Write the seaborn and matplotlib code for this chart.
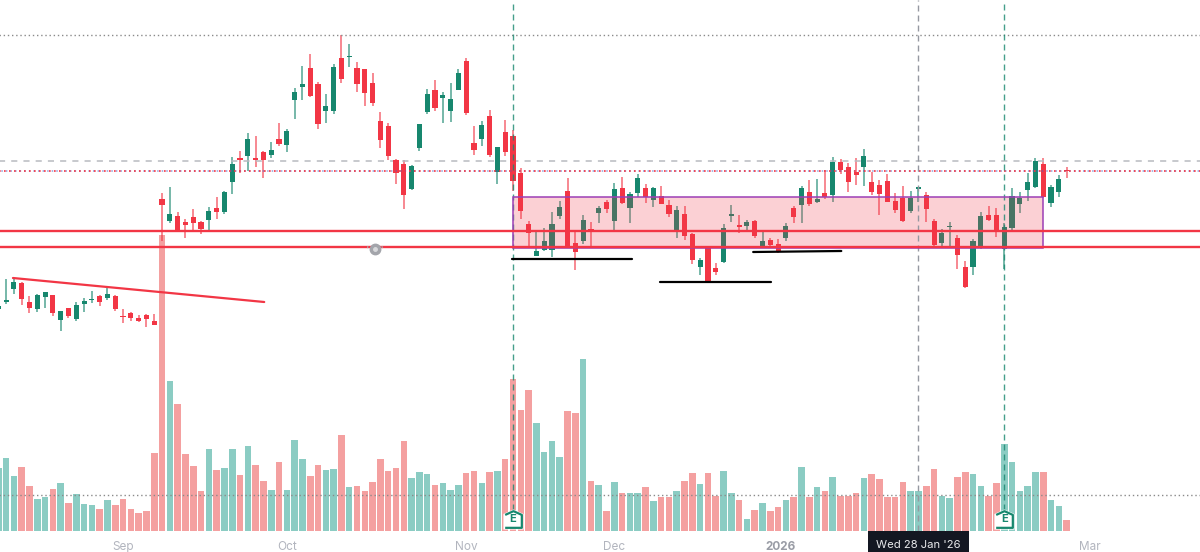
import numpy as np
import pandas as pd
import seaborn as sns
import matplotlib.pyplot as plt
from matplotlib.patches import Rectangle, Arc

# daily candles, first one sits just off the left edge (hidden price axis)
opens = [
    243.3, 249.7, 263, 269.3, 249.7, 243.3, 255.3, 257, 232, 243.7,
    233, 248, 251.7, 256, 253.7, 256.3, 236, 239, 233.7, 237,
    230.7, 352.7, 330.7, 336, 330.3, 334.7, 330.3, 331.7, 344.3, 340,
    370.3, 394, 396.3, 394, 400, 397.3, 413, 407, 452, 465,
    484.3, 467.7, 441.3, 441.3, 493.7, 495, 483.7, 482.7, 468.7, 431,
    426, 392, 388, 363.3, 403.7, 440.3, 462, 453.7, 441.3, 462.3,
    491, 409, 413.3, 436.3, 380, 419.7, 416, 379, 328.3, 296,
    301.7, 302, 336, 361.3, 308.7, 311, 322.7, 339, 350.3, 330.7,
    364, 343.7, 358.7, 364, 352, 355.7, 347.3, 322, 338, 318,
    285.3, 303.7, 284.3, 290.3, 336, 326.7, 325.7, 331.3, 304.7, 311.7,
    307.7, 313.7, 344.3, 346.7, 359.7, 350, 358.7, 356.7, 390.3, 384.7,
    380, 385, 369.7, 367, 370.7, 351, 354.3, 340.7, 362.7, 356.7,
    331.3, 309, 325, 314.3, 285, 285, 304.7, 337, 337, 302.7,
    324.3, 347.7, 361.7, 364.7, 387.7, 348.7, 360, 382,
]
closes = [
    246, 251.7, 270.3, 252.7, 244.3, 257, 260, 239.3, 241.3, 235.7,
    247, 251, 252.7, 250, 258, 243.3, 235, 234, 231, 233.3,
    227.3, 346.7, 338, 321.3, 327, 329, 323, 340.7, 340.3, 360.3,
    387.7, 392.3, 413, 392.3, 392, 401.7, 408, 421.3, 460, 467.7,
    455.7, 428, 446, 485.3, 473.3, 496, 468, 459.3, 449.3, 412.3,
    396.3, 378.7, 357.3, 386, 428, 458, 444, 457, 453.3, 478.7,
    439.3, 402, 427, 397.3, 405.3, 400, 371, 341.3, 319.3, 301.3,
    310.7, 327.7, 344.7, 305.3, 299.7, 332, 322, 343.7, 342.7, 363,
    349.3, 358.3, 373.7, 354.7, 364.3, 348.3, 338.3, 341.7, 316.3, 292.3,
    292, 269.7, 279.7, 323.7, 338, 325, 329.7, 315.7, 310.7, 307,
    301.3, 326, 335, 364, 348.3, 352.7, 354.7, 390.3, 382, 370.3,
    376.7, 396, 359.7, 358, 350.3, 342.3, 330.7, 354.3, 365, 343,
    307, 319, 326, 297, 265, 310.7, 336, 331.7, 319.7, 324.7,
    356, 354.3, 369.7, 391.3, 354.7, 365, 372.7, 381,
]
highs = [
    246.5, 273, 273.7, 269.7, 256, 257.7, 260, 257, 241.3, 244,
    249.7, 253.7, 261, 256.7, 264.3, 256.7, 243, 239.7, 237, 238,
    238.3, 358.7, 365, 339.7, 333, 342.7, 330.7, 344.7, 355, 361,
    395, 401, 418.7, 415.7, 401, 410.3, 429, 422.7, 463.7, 486.3,
    497.7, 469.7, 458, 488.3, 517, 508, 490, 482.7, 479, 440.3,
    429, 392.7, 392, 387.3, 428, 462.7, 472, 459.7, 469.3, 483.3,
    493.7, 426, 430.7, 442, 405.3, 432, 422, 383.7, 331, 321.7,
    323.7, 339.7, 351, 373.7, 320.3, 337, 330.3, 346.3, 352, 368.7,
    374.7, 359.7, 377.7, 368, 365, 366, 351.7, 346.3, 346.3, 318.7,
    293.7, 303.7, 288.7, 327.7, 347.3, 337, 331.7, 331.7, 320.3, 314.3,
    313, 328.7, 346, 366, 371.7, 372.7, 382, 395, 393, 388.7,
    393.7, 402.7, 380.3, 372, 378, 358.7, 366, 361.3, 365.3, 360.3,
    332.7, 322.7, 330.3, 317, 291, 313, 339.7, 346.3, 343.7, 328.7,
    363.7, 360.3, 378.7, 393.7, 393.7, 367, 377, 384.7,
]
lows = [
    242, 248, 258, 247, 239.3, 240.3, 244.3, 236.3, 220.7, 234.3,
    231, 240.3, 248.7, 246, 251.7, 241.3, 229.3, 231.3, 230.3, 225.3,
    227, 311, 329.3, 321.3, 313.7, 321.3, 318.3, 321.3, 333, 338.3,
    358, 379.3, 381.3, 385.3, 374, 394.3, 406.3, 400.3, 433, 451.7,
    455.3, 422.7, 429.3, 437.7, 468.7, 485.3, 460, 446, 446, 404,
    392, 368.3, 343, 361.7, 401.3, 438.3, 441.3, 429.3, 430.3, 462,
    437.3, 397.3, 405.7, 394.7, 368.3, 396.3, 361.3, 332.7, 305.3, 296,
    301.3, 295.3, 332.7, 305.3, 282, 308, 305.3, 328.7, 338.7, 322,
    348, 329.3, 355.3, 349.3, 345.3, 348, 334.7, 313.7, 312, 288.3,
    277, 269.7, 277.3, 289.3, 329.7, 319.3, 320.3, 313.7, 303.7, 305.3,
    298.7, 311, 328.7, 329.3, 346.3, 348.7, 352.7, 350.3, 377.7, 360.3,
    367, 366, 357, 337.3, 350.3, 339.3, 330.3, 339.3, 350.3, 330.3,
    304.7, 304.7, 306, 282.7, 264.3, 277, 302.7, 331, 314.7, 282.7,
    322, 339, 351, 364.3, 354, 345.3, 355.3, 373.7,
]
volumes = [
    62.7, 72.7, 55, 63.7, 45, 31.7, 34, 42, 47.7, 28,
    37, 27, 26, 22, 30.7, 26, 31.7, 22, 18.3, 20.3,
    77.7, 296, 150, 126.7, 76.7, 65, 40, 82, 60.7, 62.7,
    82, 56, 85, 66, 50, 41, 69, 41, 90.7, 72,
    55, 66, 60.7, 61.7, 95.7, 43.7, 45, 40, 48.7, 72,
    59.7, 62.7, 90, 53, 58.7, 57, 45.7, 47.7, 41, 45.7,
    58, 59.7, 47.7, 58.7, 59.7, 72, 152, 120.7, 140.7, 107.7,
    79.3, 90, 73.7, 119.7, 118, 171.7, 50, 45.7, 20.3, 49.3,
    38, 38, 38, 43.7, 29.7, 34.3, 34.3, 40, 50, 58,
    46.7, 58, 35.3, 59.7, 38, 30.7, 12, 21.3, 27.7, 20.3,
    24, 30.7, 34.3, 63.7, 34.3, 43.7, 40, 54, 35.3, 35.3,
    38, 53, 57, 52.3, 34.3, 34.3, 49.3, 40, 40, 45,
    61.7, 35.3, 33.3, 54, 58.7, 57, 45, 35.3, 47.7, 87,
    69, 40, 45, 58.7, 58.7, 30.7, 25, 11,
]
first_bar = -1

tick_bars = [15, 36, 59, 78, 99.25, 139]
tick_names = ['Sep', 'Oct', 'Nov', 'Dec', '2026', 'Mar']

# drawings on the chart
support_levels = [321.3, 305.3]
resistance_dashed = 391.3
resistance_dotted = 381.3
top_dotted = 517
volume_dotted = 36
trendline_x = [0.88, 33.1]
trendline_y = [274, 250]
box_x = [65, 133]
box_y = [304, 354.7]
floor_lines = [
    ([64.9, 80.2], [293, 293]),
    ([83.9, 98.1], [270, 270]),
    ([95.8, 107.1], [300, 301]),
]
earnings_bars = [65, 128]
crosshair_bar = 117
crosshair_label = "Wed 28 Jan '26"
alert_bar = 47.3
alert_price = 303.5

RED = '#f23645'
TEAL = '#17876e'
VOL_RED = '#f4a0a0'
VOL_TEAL = '#8bccc3'
PURPLE = '#9c3fb5'
GREY = '#9598a1'

sns.set_theme(style='white')
plt.rcParams['font.family'] = ['Inter', 'DejaVu Sans']

df = pd.DataFrame({'open': opens, 'close': closes, 'high': highs, 'low': lows, 'volume': volumes})
df['bar'] = np.arange(len(df)) + first_bar
df['side'] = np.where(df['close'] >= df['open'], 'up', 'down')

fig = plt.figure(figsize=(12, 5.52), dpi=100)
ax_vol = fig.add_axes([0, 21 / 552, 1, 531 / 552])

sns.barplot(data=df, x='bar', y='volume', hue='side', hue_order=['up', 'down'],
            palette={'up': VOL_TEAL, 'down': VOL_RED}, native_scale=True, dodge=False,
            width=0.84, saturation=1, legend=False, linewidth=0, ax=ax_vol, zorder=1)
ax_vol.set_ylim(0, 531)
ax_vol.set_yticks([])
ax_vol.set_ylabel('')
ax_vol.set_xlabel('')
ax_vol.hlines(volume_dotted, -5, 160, color='#8a8a8a', lw=1, linestyles=(0, (1, 2)), zorder=2)

ax = ax_vol.twinx()
ax.patch.set_visible(False)
ax.set_ylim(21, 552)
ax.set_yticks([])

# candles
for side, color in [('up', TEAL), ('down', RED)]:
    part = df[df['side'] == side]
    ax.vlines(part['bar'], part['low'], part['high'], color=color, lw=1.1, alpha=0.75, zorder=2)
    body_low = part[['open', 'close']].min(axis=1)
    body_high = part[['open', 'close']].max(axis=1)
    ax.bar(part['bar'], (body_high - body_low).clip(lower=1), bottom=body_low, width=0.66,
           color=color, linewidth=0, zorder=3)

# horizontal levels
ax.hlines(top_dotted, -5, 160, color='#8a8a8a', lw=1, linestyles=(0, (1, 2)), zorder=2)
ax.hlines(resistance_dashed, -5, 160, color='#b8bac0', lw=1.1, linestyles=(0, (4, 4)), zorder=2)
ax.hlines(resistance_dotted, -5, 160, color='#4a5fc1', lw=1.1, alpha=0.6, linestyles=(1.5, (1, 2)), zorder=4)
ax.hlines(resistance_dotted, -5, 160, color=RED, lw=1.2, linestyles=(0, (1, 2)), zorder=4)

# consolidation box
ax.add_patch(Rectangle((box_x[0], box_y[0]), box_x[1] - box_x[0], box_y[1] - box_y[0],
                       facecolor=RED, alpha=0.23, linewidth=0, zorder=4))
ax.add_patch(Rectangle((box_x[0], box_y[0]), box_x[1] - box_x[0], box_y[1] - box_y[0],
                       facecolor='none', edgecolor=PURPLE, lw=1.1, zorder=5))

ax.hlines(support_levels, -5, 160, color=RED, lw=1.7, zorder=6)
ax.plot(trendline_x, trendline_y, color=RED, lw=1.6, zorder=6)
for xs, ys in floor_lines:
    ax.plot(xs, ys, color='black', lw=1.6, zorder=6)

# earnings lines and badges
ax.vlines(crosshair_bar, 21, 552, color=GREY, lw=1, linestyles=(0, (4.3, 2.9)), zorder=4)
house = [(-1, -1), (1, -1), (1, 0.55), (0, 1), (-1, 0.55)]
for bar in earnings_bars:
    ax.vlines(bar, 42, 552, color=TEAL, lw=1, alpha=0.8, linestyles=(0, (4.3, 2.9)), zorder=4)
    ax.plot([bar], [33], marker=house, ms=14.5, mfc='white', mec='white', mew=0, zorder=7)
    ax.plot([bar], [33], marker=house, ms=12, mfc='white', mec=TEAL, mew=1.6, zorder=7)
    ax.text(bar, 32.5, 'E', color=TEAL, fontsize=8, fontweight='bold',
            ha='center', va='center', zorder=8)

# little alert icon on the lower level
ax.plot([alert_bar], [alert_price], marker='o', ms=7.5, mfc='#a3a5ab', mec='#a3a5ab', zorder=7)
ax.plot([alert_bar], [alert_price], marker='o', ms=2.5, mfc='#d8d9dc', mec='#d8d9dc', zorder=8)
ax.add_patch(Arc((alert_bar, alert_price), 1.9, 15, theta1=20, theta2=70,
                 color='#a3a5ab', lw=0.8, zorder=7))
ax.add_patch(Arc((alert_bar, alert_price), 1.9, 15, theta1=110, theta2=160,
                 color='#a3a5ab', lw=0.8, zorder=7))

# pixel 0 to 1200 along the bars
ax_vol.set_xlim(-0.782, 153.1)
ax_vol.set_xticks(tick_bars)
ax_vol.set_xticklabels(tick_names, fontsize=8.5, color='#b2b5be')
ax_vol.tick_params(axis='x', length=0, pad=7)
ax_vol.get_xticklabels()[4].set_fontweight('bold')
ax_vol.get_xticklabels()[4].set_color('#9a9da6')

ax_vol.text(crosshair_bar, -13.5, crosshair_label, color='#e8e9ec', fontsize=8.1, ha='center', va='center',
            bbox=dict(boxstyle='square,pad=0.72', facecolor='#131722', edgecolor='none'),
            clip_on=False, zorder=9)

sns.despine(ax=ax_vol, left=True, bottom=True)
sns.despine(ax=ax, left=True, bottom=True, right=True)

fig.savefig('out.png', dpi=100)
plt.close(fig)
